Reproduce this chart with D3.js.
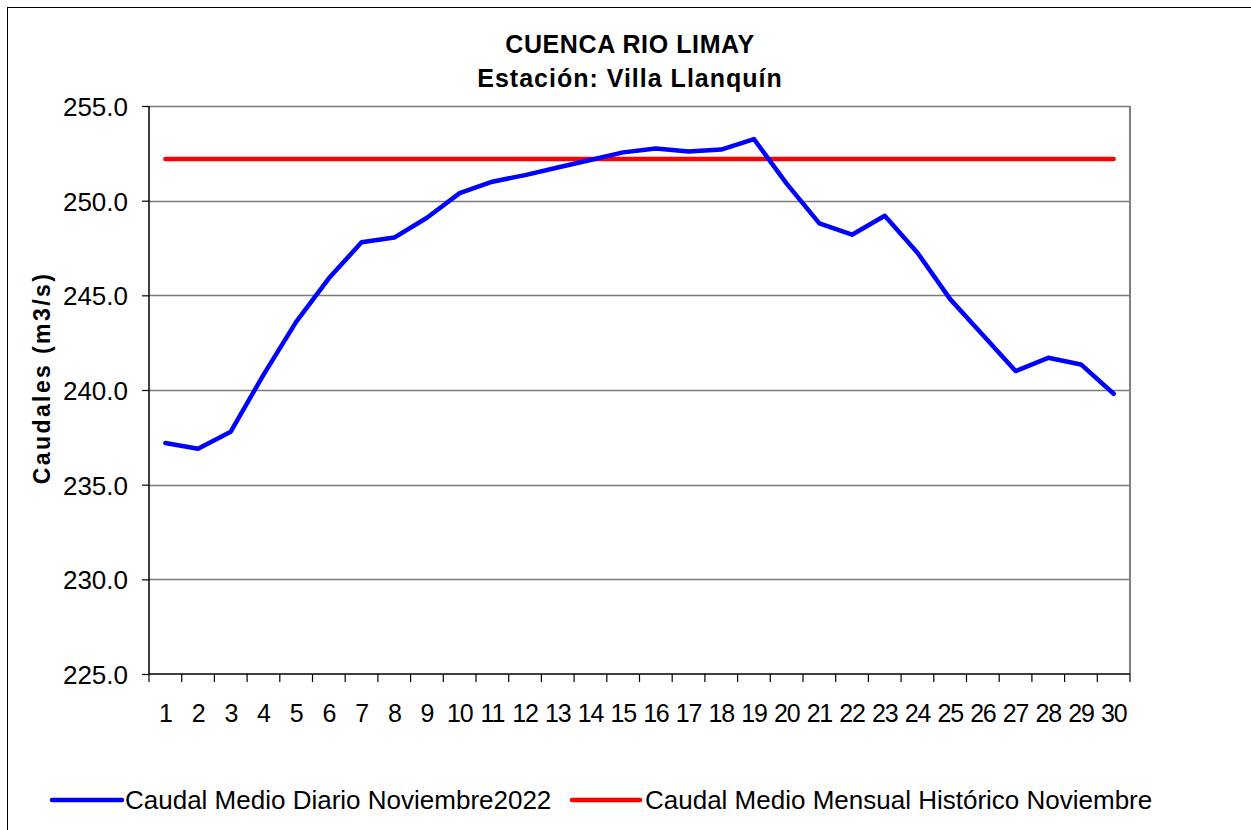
<!DOCTYPE html>
<html>
<head>
<meta charset="utf-8">
<script src="https://cdn.jsdelivr.net/npm/d3@7"></script>
<style>
  html, body { margin: 0; padding: 0; background: #fff; }
  svg { display: block; }
  text { font-family: "Liberation Sans", Arial, sans-serif; fill: #000; }
</style>
</head>
<body>
<svg id="chart" width="1251" height="830"></svg>
<script>
// Daily mean flow, Limay river at Villa Llanquín, November 2022 (m3/s)
const days = ["1","2","3","4","5","6","7","8","9","10","11","12","13","14","15",
              "16","17","18","19","20","21","22","23","24","25","26","27","28","29","30"];
const dailyFlow = [237.2, 236.9, 237.8, 240.8, 243.6, 245.9, 247.8, 248.05, 249.1, 250.4,
                   251.0, 251.35, 251.75, 252.15, 252.55, 252.75, 252.6, 252.7, 253.25, 250.9,
                   248.8, 248.2, 249.2, 247.25, 244.8, 242.9, 241.0, 241.7, 241.35, 239.8];
// Historical monthly mean for November
const historicMean = 252.2;
const yTicks = [225, 230, 235, 240, 245, 250, 255];

const titleLines = ["CUENCA RIO LIMAY", "Estación: Villa Llanquín"];
const yTitle = "Caudales (m3/s)";
const legendLabels = ["Caudal Medio Diario Noviembre2022", "Caudal Medio Mensual Histórico Noviembre"];
const colors = ["#0000ff", "#ff0000"];

const svg = d3.select("#chart");
const plot = { left: 149, right: 1130, top: 106, bottom: 674 };

// Outer chart frame
svg.append("rect")
  .attr("x", 7.5).attr("y", 7.5)
  .attr("width", 1260).attr("height", 840)
  .attr("fill", "none").attr("stroke", "#000").attr("stroke-width", 1);

const x = d3.scaleBand().domain(days).range([plot.left, plot.right]);
const y = d3.scaleLinear().domain([225, 255]).range([plot.bottom, plot.top]);

// Horizontal gridlines
svg.append("g")
  .selectAll("line")
  .data(yTicks.filter(d => d > 225))
  .join("line")
  .attr("x1", plot.left).attr("x2", plot.right)
  .attr("y1", d => Math.round(y(d)) + 0.5).attr("y2", d => Math.round(y(d)) + 0.5)
  .attr("stroke", "#7a7a7a").attr("stroke-width", 1.3);

// Plot frame: grey right edge, black left/bottom axes
svg.append("line")
  .attr("x1", plot.right).attr("x2", plot.right)
  .attr("y1", plot.top).attr("y2", plot.bottom)
  .attr("stroke", "#808080").attr("stroke-width", 2);

// Y axis
const yAxis = d3.axisLeft(y)
  .tickValues(yTicks)
  .tickFormat(d3.format(".1f"))
  .tickSize(7)
  .tickPadding(14);
const gy = svg.append("g")
  .attr("transform", `translate(${plot.left},0)`)
  .call(yAxis);
gy.select(".domain").attr("stroke", "#000").attr("stroke-width", 1.5).attr("d", `M0,${plot.top}V${plot.bottom}`);
gy.selectAll(".tick line").attr("stroke", "#000").attr("stroke-width", 1.2);
gy.selectAll(".tick text")
  .style("font-family", '"Liberation Sans", Arial, sans-serif')
  .style("font-size", "26px")
  .attr("fill", "#000")
  .attr("dy", "0.36em");

// X axis: tick marks at band boundaries, labels centred in each band
const gx = svg.append("g")
  .attr("transform", `translate(0,${plot.bottom})`)
  .call(d3.axisBottom(x).tickSize(0).tickPadding(30));
gx.select(".domain").attr("stroke", "#000").attr("stroke-width", 1.5).attr("d", `M${plot.left},0H${plot.right}`);
gx.selectAll(".tick text")
  .style("font-family", '"Liberation Sans", Arial, sans-serif')
  .style("font-size", "25px")
  .style("letter-spacing", "-1.2px")
  .attr("fill", "#000");
gx.append("g")
  .selectAll("line")
  .data(days.map(d => x(d)).concat([plot.right]))
  .join("line")
  .attr("x1", d => d).attr("x2", d => d)
  .attr("y1", 0).attr("y2", 8)
  .attr("stroke", "#000").attr("stroke-width", 1.2);

// Historical mean line
svg.append("line")
  .attr("x1", x(days[0]) + x.bandwidth() / 2)
  .attr("x2", x(days[days.length - 1]) + x.bandwidth() / 2)
  .attr("y1", y(historicMean)).attr("y2", y(historicMean))
  .attr("stroke", colors[1]).attr("stroke-width", 4.5).attr("stroke-linecap", "round");

// Daily flow line
const line = d3.line()
  .x((d, i) => x(days[i]) + x.bandwidth() / 2)
  .y(d => y(d));
svg.append("path")
  .datum(dailyFlow)
  .attr("d", line)
  .attr("fill", "none")
  .attr("stroke", colors[0]).attr("stroke-width", 4.5)
  .attr("stroke-linejoin", "round").attr("stroke-linecap", "round");

// Titles
svg.append("text")
  .attr("x", 630).attr("y", 53)
  .attr("text-anchor", "middle")
  .style("font-size", "25px").style("font-weight", "bold").style("letter-spacing", "0.6px")
  .text(titleLines[0]);
svg.append("text")
  .attr("x", 630).attr("y", 86.5)
  .attr("text-anchor", "middle")
  .style("font-size", "25px").style("font-weight", "bold").style("letter-spacing", "1px")
  .text(titleLines[1]);

// Y axis title
svg.append("text")
  .attr("transform", `translate(50,378) rotate(-90)`)
  .attr("text-anchor", "middle")
  .style("font-size", "23px").style("font-weight", "bold").style("letter-spacing", "2.4px")
  .text(yTitle);

// Legend
const legendItems = [
  { x1: 52, x2: 122, tx: 125 },
  { x1: 572, x2: 640, tx: 645 }
];
const lg = svg.append("g");
legendItems.forEach((it, i) => {
  lg.append("line")
    .attr("x1", it.x1).attr("x2", it.x2)
    .attr("y1", 800).attr("y2", 800)
    .attr("stroke", colors[i]).attr("stroke-width", 4.5).attr("stroke-linecap", "round");
  lg.append("text")
    .attr("x", it.tx).attr("y", 809)
    .style("font-size", "26px")
    .text(legendLabels[i]);
});
</script>
</body>
</html>
